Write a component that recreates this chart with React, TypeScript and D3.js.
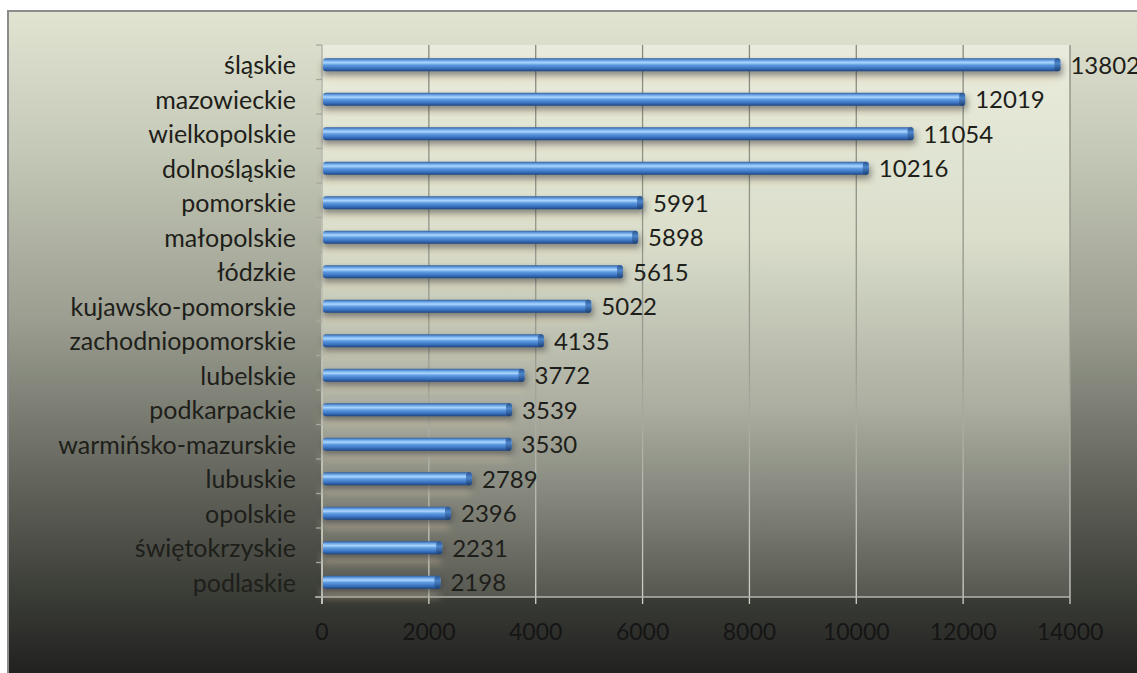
import React from "react";
import * as d3 from "d3";

const categories: string[] = [
  "śląskie",
  "mazowieckie",
  "wielkopolskie",
  "dolnośląskie",
  "pomorskie",
  "małopolskie",
  "łódzkie",
  "kujawsko-pomorskie",
  "zachodniopomorskie",
  "lubelskie",
  "podkarpackie",
  "warmińsko-mazurskie",
  "lubuskie",
  "opolskie",
  "świętokrzyskie",
  "podlaskie",
];
const values: number[] = [
  13802, 12019, 11054, 10216, 5991, 5898, 5615, 5022, 4135, 3772, 3539, 3530,
  2789, 2396, 2231, 2198,
];
const xTicks: number[] = [0, 2000, 4000, 6000, 8000, 10000, 12000, 14000];

const W = 1137;
const H = 673;
const plot = { left: 322, right: 1070, top: 45, bottom: 597 };
const FONT = "Lato, 'Open Sans', sans-serif";

export default function App() {
  const x = d3.scaleLinear().domain([0, 14000]).range([plot.left, plot.right]);
  const y = d3
    .scaleBand<string>()
    .domain(categories)
    .range([plot.top, plot.bottom])
    .paddingInner(0)
    .paddingOuter(0);
  const bw = y.bandwidth();
  const barH = 13;
  const boundaries = d3.range(categories.length + 1).map((i) => plot.top + i * bw);

  return (
    <svg
      width={W}
      height={H}
      style={{ position: "absolute", left: 0, top: 0, display: "block" }}
      fontFamily={FONT}
    >
      <defs>
        <linearGradient id="outerBg" x1="0" y1="0" x2="0" y2="1">
          <stop offset="0%" stopColor="#e2e4d2" />
          <stop offset="20%" stopColor="#c5c9b7" />
          <stop offset="45%" stopColor="#9b9e90" />
          <stop offset="65%" stopColor="#6c6e65" />
          <stop offset="86%" stopColor="#393b35" />
          <stop offset="100%" stopColor="#1b1b1b" />
        </linearGradient>
        <linearGradient
          id="plotBg"
          gradientUnits="userSpaceOnUse"
          x1="0"
          y1={plot.top}
          x2="0"
          y2={plot.bottom}
        >
          <stop offset="0%" stopColor="#e9ecdc" />
          <stop offset="35%" stopColor="#dadecb" />
          <stop offset="65%" stopColor="#acafa1" />
          <stop offset="85%" stopColor="#7d7f75" />
          <stop offset="100%" stopColor="#56574f" />
        </linearGradient>
        <linearGradient
          id="gridGrad"
          gradientUnits="userSpaceOnUse"
          x1="0"
          y1={plot.top}
          x2="0"
          y2={plot.bottom + 8}
        >
          <stop offset="0%" stopColor="#878a7e" />
          <stop offset="55%" stopColor="#9a9c90" />
          <stop offset="100%" stopColor="#cfd0c8" />
        </linearGradient>
        <linearGradient id="barGrad" x1="0" y1="0" x2="0" y2="1">
          <stop offset="0%" stopColor="#2f5c9c" />
          <stop offset="18%" stopColor="#6fa9ea" />
          <stop offset="34%" stopColor="#acd6ff" />
          <stop offset="52%" stopColor="#5e9be0" />
          <stop offset="78%" stopColor="#3a72c0" />
          <stop offset="100%" stopColor="#1d4580" />
        </linearGradient>
        <linearGradient id="capGrad" x1="0" y1="0" x2="0" y2="1">
          <stop offset="0%" stopColor="#2a548f" />
          <stop offset="40%" stopColor="#4d86cc" />
          <stop offset="100%" stopColor="#1b3f75" />
        </linearGradient>
        <filter id="shadow" x="-5%" y="-100%" width="110%" height="300%">
          <feGaussianBlur stdDeviation="3" />
        </filter>
        <filter id="glow" x="-5%" y="-100%" width="110%" height="300%">
          <feGaussianBlur stdDeviation="4" />
        </filter>
      </defs>

      <rect x={0} y={0} width={W} height={H} fill="#ffffff" />
      <rect
        x={8}
        y={11}
        width={W + 10}
        height={H + 10}
        fill="url(#outerBg)"
        stroke="#8c8c8c"
        strokeWidth={2}
      />

      {/* plot area */}
      <rect
        x={plot.left}
        y={plot.top}
        width={plot.right - plot.left}
        height={plot.bottom - plot.top}
        fill="url(#plotBg)"
      />

      {/* warm reflections under bars */}
      {categories.map((c, i) => (
        <rect
          key={"g" + c}
          x={plot.left}
          y={(y(c) as number) + bw / 2 + 9}
          width={Math.max(0, x(values[i]) - plot.left)}
          height={8}
          fill="#e8d4b0"
          opacity={0.5}
          filter="url(#glow)"
        />
      ))}

      {/* grid lines */}
      {xTicks.map((t) => (
        <line
          key={"gl" + t}
          x1={x(t)}
          x2={x(t)}
          y1={plot.top}
          y2={plot.bottom + 7}
          stroke="url(#gridGrad)"
          strokeWidth={1.3}
        />
      ))}

      {/* x axis line */}
      <line
        x1={plot.left - 7}
        x2={plot.right}
        y1={plot.bottom}
        y2={plot.bottom}
        stroke="#b4b5ab"
        strokeWidth={1.5}
      />
      {/* y axis line */}
      <line
        x1={plot.left}
        x2={plot.left}
        y1={plot.top}
        y2={plot.bottom + 7}
        stroke="#c8cabf"
        strokeWidth={1.5}
      />
      {boundaries.map((b, i) => (
        <line
          key={"yt" + i}
          x1={plot.left - 6}
          x2={plot.left}
          y1={b}
          y2={b}
          stroke="#a8aa9f"
          strokeWidth={1.3}
        />
      ))}

      {/* bars */}
      {categories.map((c, i) => {
        const cy = (y(c) as number) + bw / 2 + 2.5;
        const x0 = x(0) + 1;
        const x1 = x(values[i]) + 1;
        return (
          <g key={"b" + c}>
            <rect
              x={x0}
              y={cy - barH / 2 + 4}
              width={x1 - x0 + 2}
              height={barH}
              fill="#2a2f38"
              opacity={0.5}
              filter="url(#shadow)"
            />
            <rect
              x={x0}
              y={cy - barH / 2}
              width={x1 - x0}
              height={barH}
              rx={3}
              fill="url(#barGrad)"
            />
            <rect
              x={x1 - 6}
              y={cy - barH / 2}
              width={6}
              height={barH}
              rx={3}
              fill="url(#capGrad)"
            />
          </g>
        );
      })}

      {/* category labels */}
      {categories.map((c) => (
        <text
          key={"l" + c}
          x={plot.left - 26}
          y={(y(c) as number) + bw / 2 + 2}
          textAnchor="end"
          dominantBaseline="central"
          fontSize={25}
          fill="#1e1e1a"
        >
          {c}
        </text>
      ))}

      {/* value labels */}
      {categories.map((c, i) => (
        <text
          key={"v" + c}
          x={x(values[i]) + 11}
          y={(y(c) as number) + bw / 2 + 2}
          dominantBaseline="central"
          fontSize={24}
          fill="#1e1e1a"
        >
          {values[i]}
        </text>
      ))}

      {/* x tick labels */}
      {xTicks.map((t) => (
        <text
          key={"xt" + t}
          x={x(t)}
          y={640}
          textAnchor="middle"
          fontSize={23}
          fill="#151515"
        >
          {t}
        </text>
      ))}
    </svg>
  );
}
